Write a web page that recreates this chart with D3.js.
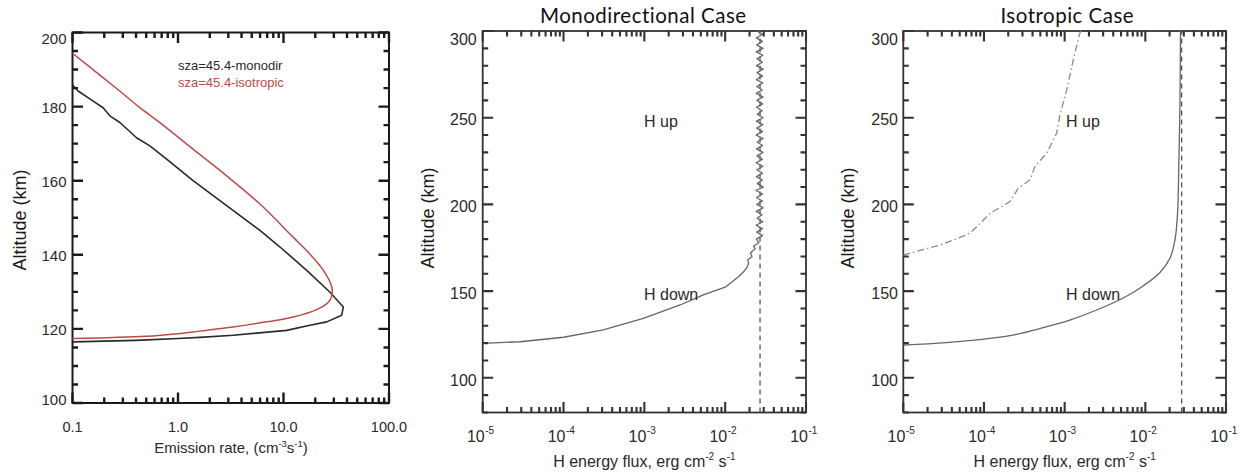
<!DOCTYPE html>
<html><head><meta charset="utf-8">
<script src="https://cdn.jsdelivr.net/npm/d3@7/dist/d3.min.js"></script>
<style>body{margin:0;background:#fff}svg{display:block}</style>
</head><body>
<script>
// ---------- Panel 1: emission rate ----------
const emisXTicks = [0.1, 1, 10, 100];
const emisXTickLabels = ["0.1", "1.0", "10.0", "100.0"];
const emisYTicks = [100, 120, 140, 160, 180, 200];
const monoRate = [0.1, 0.4, 1.0, 1.61, 3.34, 10.7, 17.8, 25.7, 35.6, 36.9, 27.6, 16.6, 9.27, 5.98, 2.89, 1.39, 0.78, 0.541, 0.405, 0.281, 0.226, 0.195, 0.157, 0.113, 0.1];
const monoAlt  = [116.5, 116.9, 117.4, 117.7, 118.3, 119.6, 121.0, 121.9, 123.7, 125.9, 129.9, 135.8, 142.1, 146.6, 153.3, 160.0, 165.8, 169.4, 171.6, 175.7, 177.5, 179.7, 181.5, 184.2, 185.8];
const isoRate = [0.1, 0.5, 1.0, 1.61, 3.34, 6.92, 12.4, 20.6, 26.6, 28.7, 28.7, 23.9, 16.6, 12.4, 5.98, 2.89, 1.39, 0.673, 0.435, 0.28, 0.1];
const isoAlt  = [117.4, 118.0, 118.7, 119.4, 120.5, 121.9, 123.2, 125.2, 127.2, 129.0, 131.3, 135.8, 141.1, 144.7, 153.7, 161.3, 168.5, 175.7, 179.7, 184.2, 194.4];
const legendLabels = ["sza=45.4-monodir", "sza=45.4-isotropic"];

// ---------- Panels 2 & 3: energy flux ----------
const fluxXTicks = [1e-5, 1e-4, 1e-3, 1e-2, 1e-1];
const fluxXExponents = ["-5", "-4", "-3", "-2", "-1"];
const fluxYTicks = [100, 150, 200, 250, 300];
const titles = ["Monodirectional Case", "Isotropic Case"];

// Monodirectional H down (smooth part, knee, then noisy column)
const monoDownFlux = [1e-5, 2.9e-5, 1e-4, 3.1e-4, 9.7e-4, 2.77e-3, 5.37e-3, 1.02e-2, 1.46e-2, 1.68e-2, 1.85e-2, 1.95e-2, 1.90e-2, 2.15e-2, 2.05e-2, 2.35e-2, 2.25e-2, 2.62e-2,
  0.0243, 0.0290, 0.0246, 0.0288, 0.0241, 0.0293, 0.0248, 0.0286, 0.0242, 0.0295, 0.0247, 0.0289, 0.0244, 0.0292, 0.0240, 0.0296, 0.0249, 0.0287, 0.0243, 0.0291,
  0.0246, 0.0294, 0.0241, 0.0288, 0.0247, 0.0293, 0.0244, 0.0290, 0.0248, 0.0296, 0.0242, 0.0289, 0.0246, 0.0292, 0.0243, 0.0295, 0.0249, 0.0287, 0.0244, 0.0291,
  0.0247, 0.0294, 0.0242, 0.0288, 0.0246, 0.0293, 0.0243, 0.0290, 0.0248, 0.0295, 0.0244, 0.0289, 0.0247, 0.0292, 0.0242, 0.0294, 0.0246, 0.0288, 0.0243, 0.0291, 0.0247];
const monoDownAlt = [119.9, 120.8, 123.4, 127.6, 134.3, 142.0, 147.8, 152.5, 158.3, 161.0, 163.5, 166.0, 168.0, 170.0, 172.0, 174.5, 176.0, 178.0,
  180, 182, 184, 186, 188, 190, 192, 194, 196, 198, 200, 202, 204, 206, 208, 210, 212, 214, 216, 218,
  220, 222, 224, 226, 228, 230, 232, 234, 236, 238, 240, 242, 244, 246, 248, 250, 252, 254, 256, 258,
  260, 262, 264, 266, 268, 270, 272, 274, 276, 278, 280, 282, 284, 286, 288, 290, 292, 294, 296, 298, 300];
const monoUpFlux = 0.027;   // dashed vertical (H up)

// Isotropic
const isoDownFlux = [1e-5, 3.4e-5, 1.19e-4, 2.54e-4, 5.4e-4, 1.16e-3, 2.49e-3, 5.4e-3, 9.4e-3, 1.51e-2, 2.02e-2, 2.33e-2, 2.51e-2, 2.6e-2, 2.69e-2, 2.73e-2, 2.74e-2];
const isoDownAlt  = [118.9, 120.3, 122.8, 125.1, 128.9, 133.3, 139.1, 146.2, 153.0, 160.6, 168.9, 179.5, 194.9, 221.8, 260.2, 297.7, 300];
const isoUpFlux = [1e-5, 2.85e-5, 6.1e-5, 7.4e-5, 1.19e-4, 2.1e-4, 2.66e-4, 3.72e-4, 4.28e-4, 5.98e-4, 7.95e-4, 8.75e-4, 1.06e-3, 1.28e-3, 1.52e-3, 1.58e-3];
const isoUpAlt  = [170.8, 176.6, 182.4, 185.2, 194.9, 201.6, 209.3, 214.1, 221.8, 229.5, 241.0, 251.6, 266.0, 283.3, 297.7, 300];
const isoRefFlux = 0.0282;  // dashed vertical

const SANS = "'Liberation Sans', Arial, Helvetica, sans-serif";
const svg = d3.select("body").append("svg").attr("width", 1247).attr("height", 474)
  .style("font-family", SANS);
const tickLayer = []; // tick specs collected per panel, drawn last on top of everything

function logMinor(scale) {
  const [a, b] = scale.domain();
  const out = [];
  for (let e = Math.round(Math.log10(a)); e < Math.round(Math.log10(b)); e++)
    for (let k = 2; k <= 9; k++) out.push(k * Math.pow(10, e));
  return out;
}
function linMinor(scale, step) {
  const [a, b] = scale.domain();
  const out = [];
  for (let v = a; v <= b + 1e-9; v += step) out.push(v);
  return out;
}

function drawFrame(g, x, y, o) {
  const [x0, x1] = x.range();
  const [yb, yt] = y.range();
  g.append("rect").attr("x", x0).attr("y", yt).attr("width", x1 - x0).attr("height", yb - yt)
    .attr("fill", "none").attr("stroke", o.color).attr("stroke-width", o.bw);
  let d = "";
  const vx = (v, L) => { const px = x(v).toFixed(2);
    d += `M${px},${yb}V${(yb - L).toFixed(2)}M${px},${yt}V${(yt + L).toFixed(2)}`; };
  const hy = (v, L) => { const py = y(v).toFixed(2);
    d += `M${x0},${py}H${(x0 + L).toFixed(2)}M${x1},${py}H${(x1 - L).toFixed(2)}`; };
  o.xMaj.forEach(v => vx(v, o.maj));
  o.xMin.forEach(v => vx(v, o.min));
  o.yMaj.forEach(v => hy(v, o.maj));
  o.yMin.forEach(v => hy(v, o.min));
  tickLayer.push({ d, color: o.color, w: o.tw });
}

// ================= Panel 1 =================
{
  const g = svg.append("g");
  const x = d3.scaleLog().domain([0.1, 100]).range([72.5, 389]);
  const y = d3.scaleLinear().domain([100, 200]).range([403, 32.5]);
  drawFrame(g, x, y, { xMaj: emisXTicks, xMin: logMinor(x), yMaj: emisYTicks, yMin: linMinor(y, 5),
    maj: 10.5, min: 5.5, color: "#1a1a1a", tw: 2.4, bw: 2 });
  const line = d3.line().x(d => x(d[0])).y(d => y(d[1]));
  const smooth = d3.line().x(d => x(d[0])).y(d => y(d[1])).curve(d3.curveCatmullRom.alpha(0.5));
  g.append("path").attr("d", line(d3.zip(monoRate, monoAlt))).attr("fill", "none")
    .attr("stroke", "#2a2a2a").attr("stroke-width", 1.6).attr("stroke-linejoin", "round");
  g.append("path").attr("d", smooth(d3.zip(isoRate, isoAlt))).attr("fill", "none")
    .attr("stroke", "#bf4a47").attr("stroke-width", 1.5).attr("stroke-linejoin", "round");
  emisXTicks.forEach((v, i) => g.append("text").attr("x", x(v)).attr("y", 431.5)
    .attr("text-anchor", "middle").attr("font-size", 14.5).attr("fill", "#2a2a2a").text(emisXTickLabels[i]));
  emisYTicks.forEach(v => g.append("text").attr("x", 66.5)
    .attr("y", y(v) + (v === 200 ? 6 : v === 100 ? -3.5 : 0.5)).attr("dy", "0.36em")
    .attr("text-anchor", "end").attr("font-size", 15).attr("fill", "#2a2a2a").text(v));
  const t = g.append("text").attr("x", 231).attr("y", 453).attr("text-anchor", "middle")
    .attr("font-size", 15).attr("fill", "#2a2a2a");
  t.append("tspan").text("Emission rate, (cm");
  t.append("tspan").attr("font-size", 9.5).attr("dy", -6).text("-3");
  t.append("tspan").attr("dy", 6).text("s");
  t.append("tspan").attr("font-size", 9.5).attr("dy", -6).text("-1");
  t.append("tspan").attr("dy", 6).text(")");
  g.append("text").attr("transform", "translate(26,220) rotate(-90)").attr("text-anchor", "middle")
    .attr("font-size", 18).attr("fill", "#1a1a1a").text("Altitude (km)");
  g.append("text").attr("x", 178).attr("y", 70).attr("font-size", 13).attr("fill", "#2a2a2a").text(legendLabels[0]);
  g.append("text").attr("x", 178).attr("y", 87).attr("font-size", 13).attr("fill", "#bf4a47").text(legendLabels[1]);
}

// ================= Panels 2 & 3 =================
function fluxPanel(x0, x1, title, titleX, ytitleX, ylabX, textX, draw) {
  const g = svg.append("g");
  const x = d3.scaleLog().domain([1e-5, 1e-1]).range([x0, x1]);
  const y = d3.scaleLinear().domain([80, 300]).range([412.5, 31]);
  drawFrame(g, x, y, { xMaj: fluxXTicks, xMin: logMinor(x), yMaj: fluxYTicks, yMin: linMinor(y, 10),
    maj: 10.5, min: 5.5, color: "#333", tw: 2.1, bw: 1.8 });
  draw(g, x, y);
  fluxXTicks.forEach((v, i) => {
    g.append("text").attr("x", x(v) + 2).attr("y", 441.5).attr("text-anchor", "end")
      .attr("font-size", 16).attr("fill", "#2a2a2a").text("10");
    g.append("text").attr("x", x(v) + 2.5).attr("y", 433.5)
      .attr("font-size", 10).attr("fill", "#2a2a2a").text(fluxXExponents[i]);
  });
  fluxYTicks.forEach(v => g.append("text").attr("x", ylabX).attr("y", y(v) + (v === 300 ? 8 : 2))
    .attr("dy", "0.36em").attr("text-anchor", "end").attr("font-size", 16).attr("fill", "#2a2a2a").text(v));
  const t = g.append("text").attr("x", (x0 + x1) / 2).attr("y", 467).attr("text-anchor", "middle")
    .attr("font-size", 16).attr("fill", "#2a2a2a");
  t.append("tspan").text("H energy flux, erg cm");
  t.append("tspan").attr("font-size", 10).attr("dy", -7).text("-2");
  t.append("tspan").attr("dy", 7).text(" s");
  t.append("tspan").attr("font-size", 10).attr("dy", -7).text("-1");
  g.append("text").attr("transform", `translate(${ytitleX},218) rotate(-90)`).attr("text-anchor", "middle")
    .attr("font-size", 18).attr("fill", "#1a1a1a").text("Altitude (km)");
  g.append("text").attr("x", titleX).attr("y", 23.3).attr("text-anchor", "middle")
    .attr("font-family", "Lato, 'Open Sans', sans-serif").attr("font-size", 20.5)
    .attr("letter-spacing", 0.5).attr("fill", "#111").text(title);
  g.append("text").attr("x", textX).attr("y", 126.5).attr("font-size", 16).attr("fill", "#2a2a2a").text("H up");
  g.append("text").attr("x", textX).attr("y", 300).attr("font-size", 16).attr("fill", "#2a2a2a").text("H down");
}

fluxPanel(482.7, 806, titles[0], 643.3, 434, 476.7, 644, (g, x, y) => {
  const line = d3.line().x(d => x(d[0])).y(d => y(d[1]));
  g.append("line").attr("x1", x(monoUpFlux)).attr("x2", x(monoUpFlux)).attr("y1", y(80)).attr("y2", y(300))
    .attr("stroke", "#555").attr("stroke-width", 1.3).attr("stroke-dasharray", "5,4");
  g.append("path").attr("d", line(d3.zip(monoDownFlux, monoDownAlt))).attr("fill", "none")
    .attr("stroke", "#666").attr("stroke-width", 1.3).attr("stroke-linejoin", "round");
});

fluxPanel(903.3, 1226, titles[1], 1067.3, 854, 898, 1066, (g, x, y) => {
  const smooth = d3.line().x(d => x(d[0])).y(d => y(d[1])).curve(d3.curveCatmullRom.alpha(0.5));
  const line = d3.line().x(d => x(d[0])).y(d => y(d[1]));
  g.append("line").attr("x1", x(isoRefFlux)).attr("x2", x(isoRefFlux)).attr("y1", y(80)).attr("y2", y(300))
    .attr("stroke", "#555").attr("stroke-width", 1.3).attr("stroke-dasharray", "5,4");
  g.append("path").attr("d", smooth(d3.zip(isoDownFlux, isoDownAlt))).attr("fill", "none")
    .attr("stroke", "#666").attr("stroke-width", 1.3);
  g.append("path").attr("d", line(d3.zip(isoUpFlux, isoUpAlt))).attr("fill", "none")
    .attr("stroke", "#8a8a8a").attr("stroke-width", 1.3).attr("stroke-dasharray", "7,3,1.5,3");
});

// tick marks, drawn last so nothing can cover them
const tl = svg.append("g").attr("class", "ticklayer");
tickLayer.forEach(s => tl.append("path").attr("d", s.d).attr("fill", "none")
  .attr("stroke", s.color).attr("stroke-width", s.w).attr("stroke-linecap", "butt"));
</script>
</body></html>
